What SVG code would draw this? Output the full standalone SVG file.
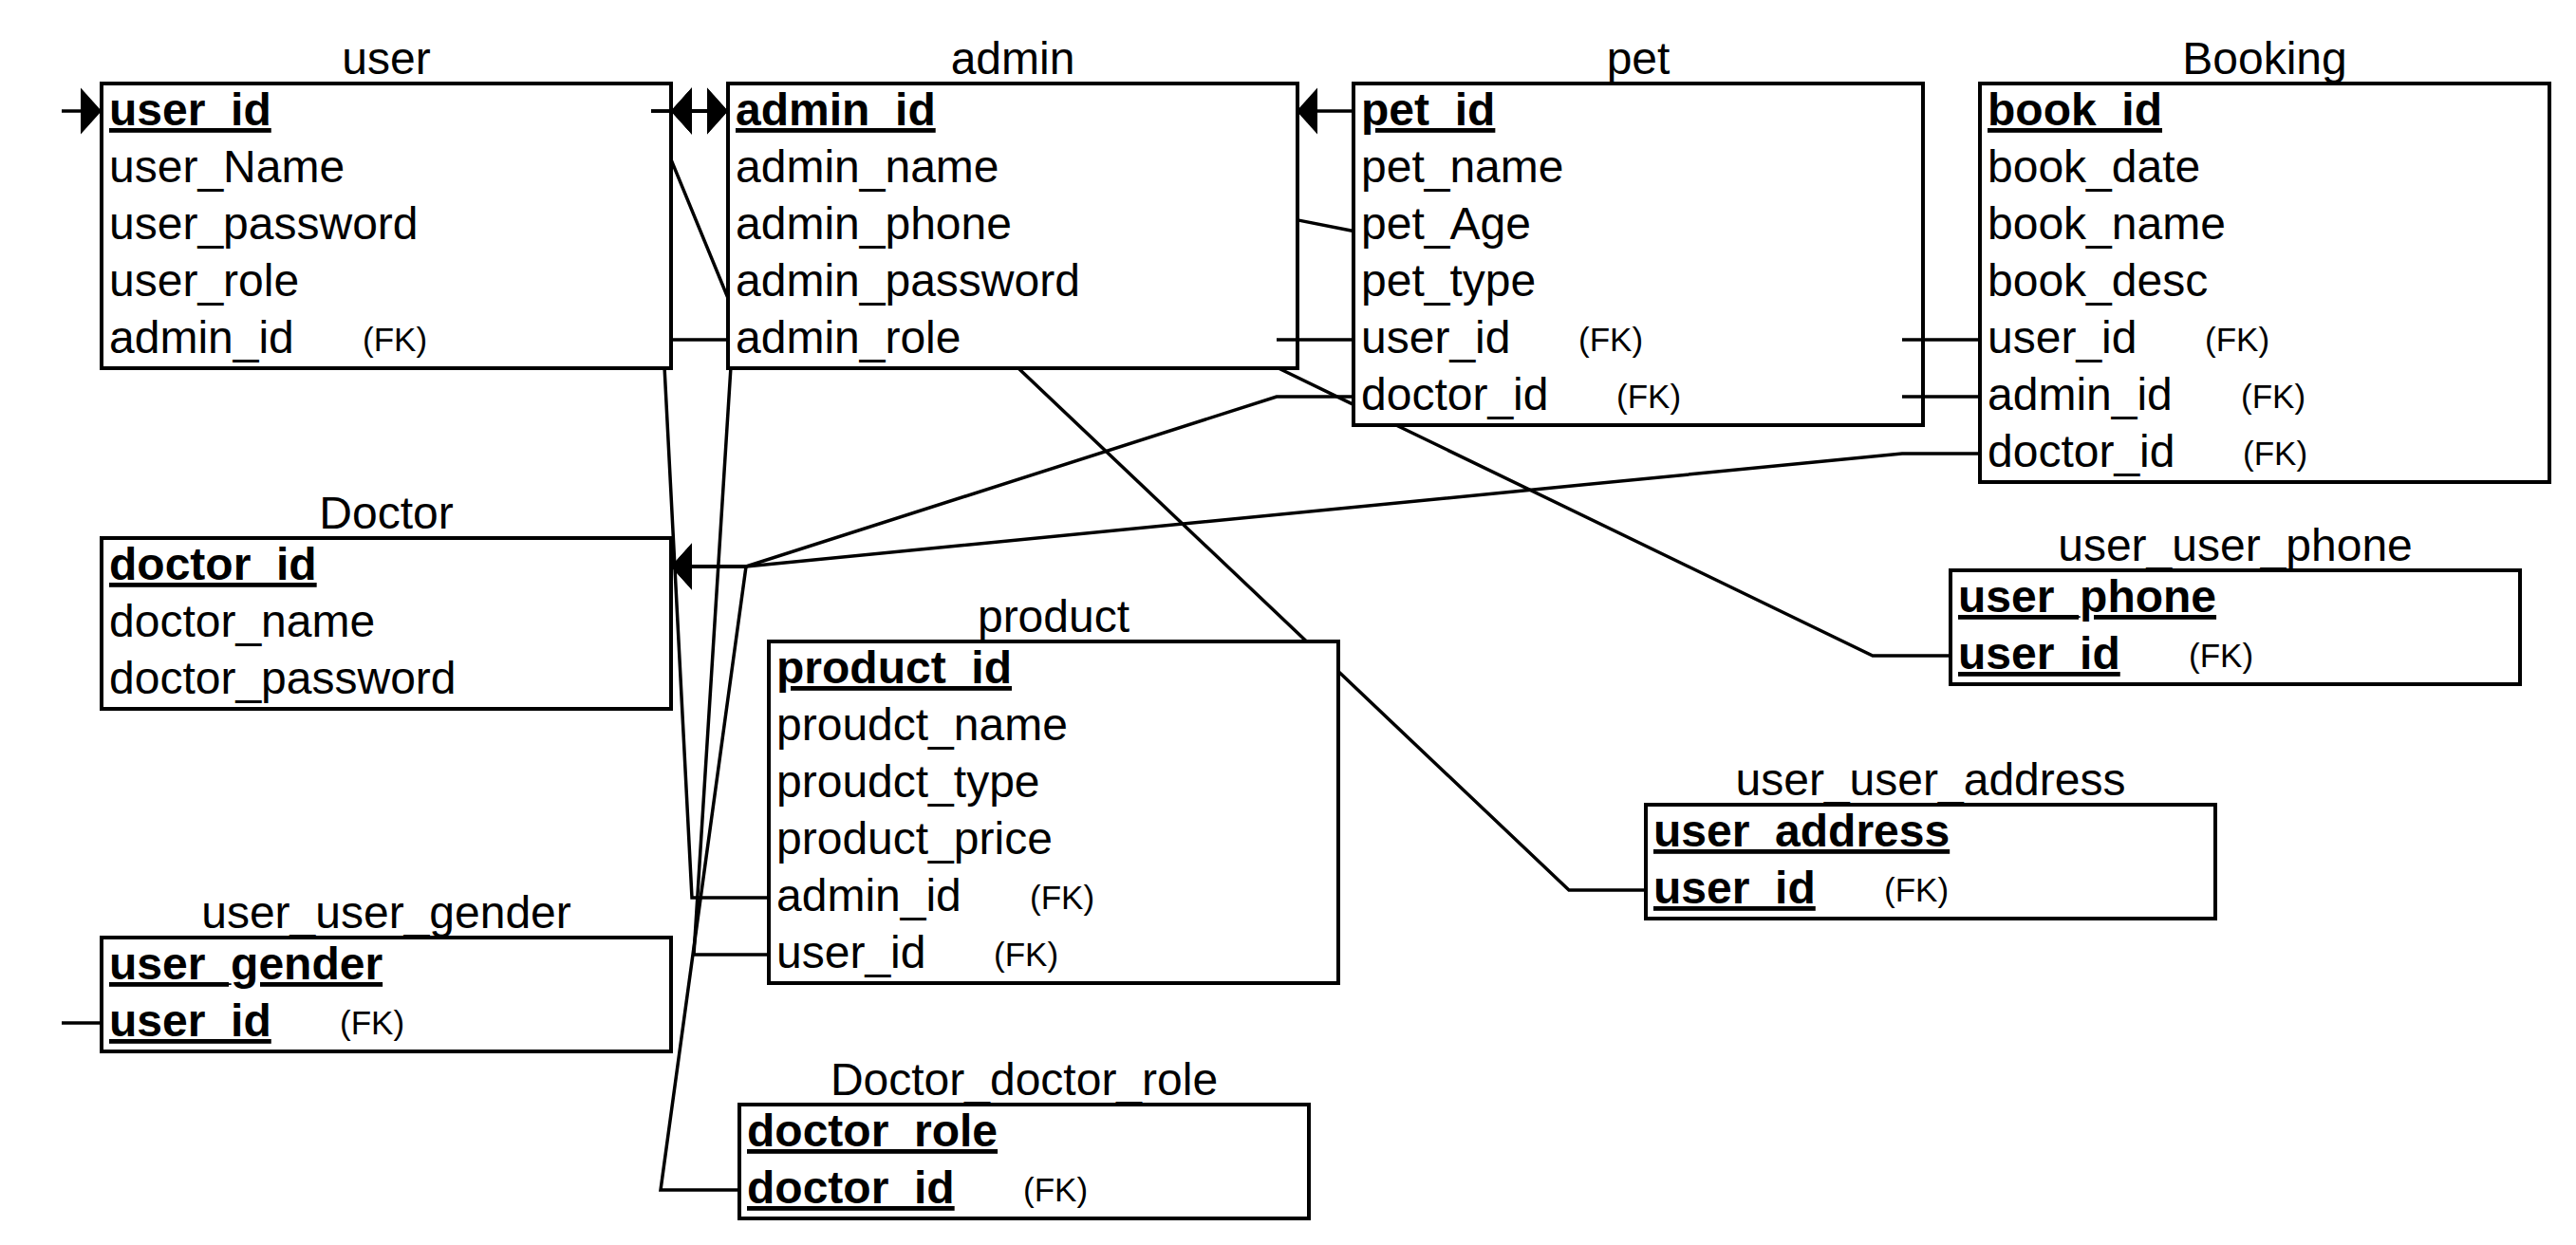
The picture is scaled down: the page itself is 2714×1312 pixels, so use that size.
<svg xmlns="http://www.w3.org/2000/svg" width="2714" height="1312" viewBox="0 0 2714 1312">
<defs>
<style>
text{font-family:"Liberation Sans",Arial,Helvetica,sans-serif;fill:#000}
.t{font-size:48px;text-anchor:middle}
.f{font-size:48px}
.pk{font-size:48px;font-weight:bold;text-decoration:underline}
.fk{font-size:35px}
.box{fill:#fff;stroke:#000;stroke-width:4}
.c{fill:none;stroke:#000;stroke-width:3.5}
.a{marker-end:url(#arr)}
</style>
<marker id="arr" markerUnits="userSpaceOnUse" markerWidth="24" markerHeight="50" viewBox="0 0 24 50" refX="22" refY="25" orient="auto"><path d="M0,0.5 L22,25 L0,49.5 Z" fill="#000"/></marker>
</defs>
<rect width="2714" height="1312" fill="#fff"/>

<g id="user">
<text class="t" x="407" y="78">user</text>
<rect class="box" x="107" y="88" width="600" height="300"/>
<text class="pk" x="115" y="132">user_id</text>
<text class="f" x="115" y="192">user_Name</text>
<text class="f" x="115" y="252">user_password</text>
<text class="f" x="115" y="312">user_role</text>
<text class="f" x="115" y="372">admin_id</text><text class="fk" x="382" y="370">(FK)</text>
</g>

<g id="admin">
<text class="t" x="1067" y="78">admin</text>
<rect class="box" x="767" y="88" width="600" height="300"/>
<text class="pk" x="775" y="132">admin_id</text>
<text class="f" x="775" y="192">admin_name</text>
<text class="f" x="775" y="252">admin_phone</text>
<text class="f" x="775" y="312">admin_password</text>
<text class="f" x="775" y="372">admin_role</text>
</g>

<g id="pet">
<text class="t" x="1726" y="78">pet</text>
<rect class="box" x="1426" y="88" width="600" height="360"/>
<text class="pk" x="1434" y="132">pet_id</text>
<text class="f" x="1434" y="192">pet_name</text>
<text class="f" x="1434" y="252">pet_Age</text>
<text class="f" x="1434" y="312">pet_type</text>
<text class="f" x="1434" y="372">user_id</text><text class="fk" x="1663" y="370">(FK)</text>
<text class="f" x="1434" y="432">doctor_id</text><text class="fk" x="1703" y="430">(FK)</text>
</g>

<g id="Booking">
<text class="t" x="2386" y="78">Booking</text>
<rect class="box" x="2086" y="88" width="600" height="420"/>
<text class="pk" x="2094" y="132">book_id</text>
<text class="f" x="2094" y="192">book_date</text>
<text class="f" x="2094" y="252">book_name</text>
<text class="f" x="2094" y="312">book_desc</text>
<text class="f" x="2094" y="372">user_id</text><text class="fk" x="2323" y="370">(FK)</text>
<text class="f" x="2094" y="432">admin_id</text><text class="fk" x="2361" y="430">(FK)</text>
<text class="f" x="2094" y="492">doctor_id</text><text class="fk" x="2363" y="490">(FK)</text>
</g>

<g id="Doctor">
<text class="t" x="407" y="557">Doctor</text>
<rect class="box" x="107" y="567" width="600" height="180"/>
<text class="pk" x="115" y="611">doctor_id</text>
<text class="f" x="115" y="671">doctor_name</text>
<text class="f" x="115" y="731">doctor_password</text>
</g>

<g id="product">
<text class="t" x="1110" y="666">product</text>
<rect class="box" x="810" y="676" width="600" height="360"/>
<text class="pk" x="818" y="720">product_id</text>
<text class="f" x="818" y="780">proudct_name</text>
<text class="f" x="818" y="840">proudct_type</text>
<text class="f" x="818" y="900">product_price</text>
<text class="f" x="818" y="960">admin_id</text><text class="fk" x="1085" y="958">(FK)</text>
<text class="f" x="818" y="1020">user_id</text><text class="fk" x="1047" y="1018">(FK)</text>
</g>

<g id="user_user_gender">
<text class="t" x="407" y="978">user_user_gender</text>
<rect class="box" x="107" y="988" width="600" height="120"/>
<text class="pk" x="115" y="1032">user_gender</text>
<text class="pk" x="115" y="1092">user_id</text><text class="fk" x="358" y="1090">(FK)</text>
</g>

<g id="Doctor_doctor_role">
<text class="t" x="1079" y="1154">Doctor_doctor_role</text>
<rect class="box" x="779" y="1164" width="600" height="120"/>
<text class="pk" x="787" y="1208">doctor_role</text>
<text class="pk" x="787" y="1268">doctor_id</text><text class="fk" x="1078" y="1266">(FK)</text>
</g>

<g id="user_user_phone">
<text class="t" x="2355" y="591">user_user_phone</text>
<rect class="box" x="2055" y="601" width="600" height="120"/>
<text class="pk" x="2063" y="645">user_phone</text>
<text class="pk" x="2063" y="705">user_id</text><text class="fk" x="2306" y="703">(FK)</text>
</g>

<g id="user_user_address">
<text class="t" x="2034" y="838">user_user_address</text>
<rect class="box" x="1734" y="848" width="600" height="120"/>
<text class="pk" x="1742" y="892">user_address</text>
<text class="pk" x="1742" y="952">user_id</text><text class="fk" x="1985" y="950">(FK)</text>
</g>

<g id="connectors">
<path class="c a" d="M707,358 L767,358 M767,314.2 L707,168.1 M686,117 L767,117"/>
<path class="c a" d="M1426,358 L1345,358 M767,117 L707,117"/>
<path class="c a" d="M2086,418 L2004,418 M1426,117 L1366,117"/>
<path class="c a" d="M2086,358 L2004,358 M1426,243.5 L1367,231.9 M767,117 L707,117"/>
<path class="c a" d="M810,1006 L731,1006 L769.9,388 M767,117 L707,117"/>
<path class="c a" d="M810,946 L729,946 L700.1,388 M686,117 L767,117"/>
<path class="c a" d="M1734,938 L1653,938 L1410,707.6 M1376.6,676 L1072.9,388 M767,117 L707,117"/>
<path class="c a" d="M2055,691 L1973,691 L1470.9,448 M1426,426.3 L1346.9,388 M767,117 L707,117"/>
<path class="c a" d="M107,1078 L65,1078 M65,117 L107,117"/>
<path class="c a" d="M1426,418 L1345,418 L786,597 L707,597"/>
<path class="c a" d="M2086,478 L2004,478 L786,597 L707,597"/>
<path class="c a" d="M779,1254 L696,1254 L786,597 L707,597"/>
</g>
</svg>
